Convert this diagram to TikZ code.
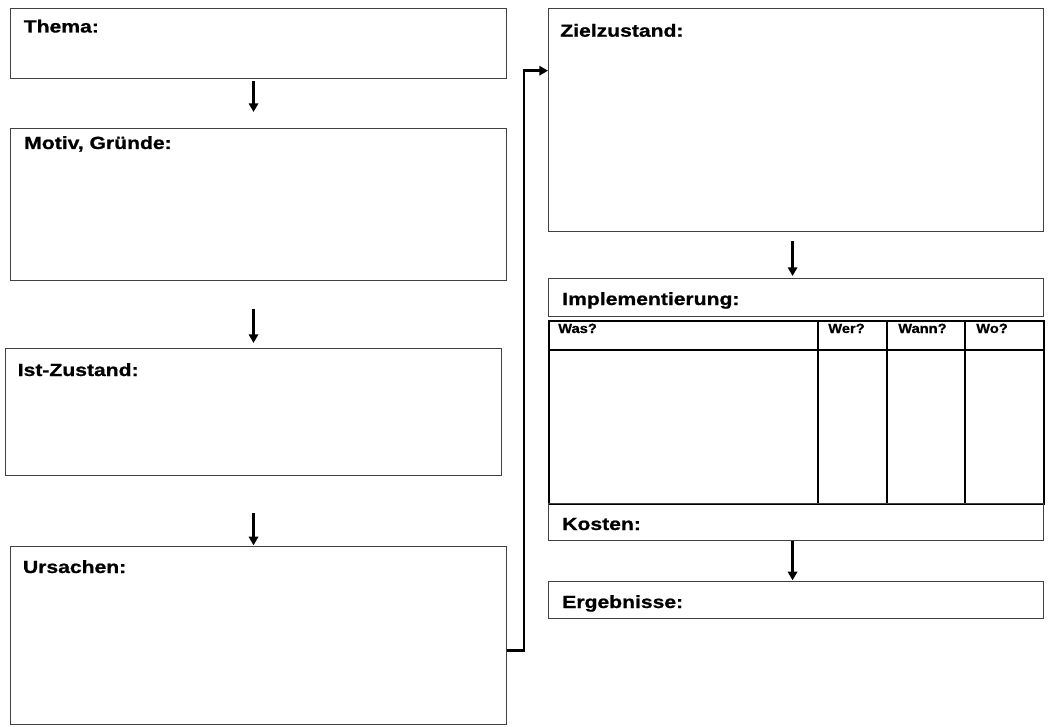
\documentclass[tikz,border=0pt]{standalone}
\usepackage{fontspec}
\setmainfont{Liberation Sans}
\newfontfamily\breitfont[FakeStretch=1.2, BoldFeatures={FakeBold=0.9}]{Liberation Sans}
\newfontfamily\kopffont[FakeStretch=1.1, BoldFeatures={FakeBold=0.7}]{Liberation Sans}
\usetikzlibrary{arrows.meta}

\tikzset{
  feld/.style={draw=black!75, line width=0.8pt, inner sep=0pt, anchor=north west},
  titel/.style={anchor=base west, inner sep=0pt, font=\breitfont\fontsize{13.2}{16}\selectfont\bfseries},
  kopf/.style={anchor=base west, inner sep=0pt, font=\kopffont\fontsize{10}{12}\selectfont\bfseries},
  pfeil/.style={line width=2pt, -{Triangle[width=7pt,length=6.5pt]}},
}

\begin{document}
\begin{tikzpicture}[x=0.75pt,y=-0.75pt]
        \useasboundingbox[fill=white] (0,0) rectangle (1062,727);
        % linke Spalte
        \node[feld, minimum width=372pt, minimum height=52.5pt] (thema) at (10,8) {};
        \node[feld, minimum width=372pt, minimum height=114pt] (motiv) at (10,128) {};
        \node[feld, minimum width=372pt, minimum height=95.25pt] (ist) at (5,348) {};
        \node[feld, minimum width=372pt, minimum height=133.5pt] (urs) at (10,546) {};
        \node[titel] (tthema) at (23.5,32.5) {Thema:};
        \node[titel] (tmotiv) at (24,149) {Motiv, Gründe:};
        \node[titel] (tist) at (17.5,376) {Ist-Zustand:};
        \node[titel] (turs) at (22.7,573) {Ursachen:};
        % rechte Spalte
        \node[feld, minimum width=371.25pt, minimum height=167.25pt] (ziel) at (548,8) {};
        \node[feld, minimum width=371.25pt, minimum height=28.5pt] (impl) at (548,278) {};
        \node[draw, line width=1.4pt, inner sep=0pt, anchor=north west, minimum width=371.25pt, minimum height=137.25pt] (tab) at (548,320) {};
        \node[feld, minimum width=371.25pt, minimum height=27.75pt] (kosten) at (548,503) {};
        \node[feld, minimum width=371.25pt, minimum height=27.75pt] (erg) at (548,581) {};
        \node[titel] (tziel) at (560,36.7) {Zielzustand:};
        \node[titel] (timpl) at (562,305) {Implementierung:};
        \node[titel] (tkosten) at (562,530) {Kosten:};
        \node[titel] (terg) at (562,608) {Ergebnisse:};
        % Tabelle
        \draw[line width=1.4pt] (tab.north west) ++(0,30) -- ++(495,0);
        \foreach \x in {818,887,965}
          \draw[line width=1.4pt] (\x,320) -- (\x,503);
        \node[kopf] (was) at (558,333) {Was?};
        \node[kopf] (wer) at (828,333) {Wer?};
        \node[kopf] (wann) at (898,333) {Wann?};
        \node[kopf] (wo) at (976,333) {Wo?};
        % Pfeile
        \draw[pfeil, shorten <=1.5pt, shorten >=12pt] ([xshift=-3.75pt]thema.south) -- ([xshift=-3.75pt]motiv.north);
        \draw[pfeil, shorten <=21pt, shorten >=3.75pt] (motiv.south -| ist.north) -- (ist.north);
        \draw[pfeil, shorten <=27.75pt, shorten >=0.5pt] (ist.south) -- (ist.south |- urs.north);
        \draw[pfeil, shorten <=6.75pt, shorten >=1.5pt] ([xshift=-2.6pt]ziel.south) -- ([xshift=-2.6pt]impl.north);
        \draw[pfeil, shorten >=0.5pt] ([xshift=-2.6pt]kosten.south) -- ([xshift=-2.6pt]erg.north);
        \draw[pfeil] ([yshift=-11.25pt]urs.east) -- ++(17,0) |- ([yshift=37pt]ziel.west);
      \end{tikzpicture}
\end{document}
